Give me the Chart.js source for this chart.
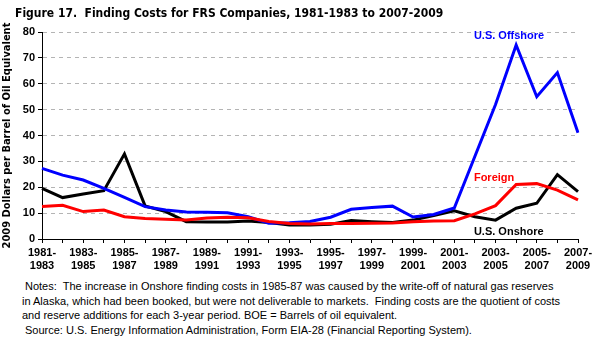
<!DOCTYPE html>
<html>
<head>
<meta charset="utf-8">
<script src="https://cdn.jsdelivr.net/npm/chart.js@4/dist/chart.umd.min.js"></script>
<style>
  body { margin: 0; background: #fff; }
  #wrap { position: relative; width: 599px; height: 349px; background: #fff; overflow: hidden; }
  #title { position: absolute; left: 15px; top: 6px; font: bold 12px "Liberation Sans Narrow", "DejaVu Sans Condensed", sans-serif; color: #000; white-space: nowrap; }
  #chart-box { position: absolute; left: 0; top: 0; width: 599px; height: 280px; }
  .note { position: absolute; font: 11px "Liberation Sans", Arial, sans-serif; color: #000; white-space: nowrap; }
</style>
</head>
<body>
<div id="wrap">
  <div id="chart-box"><canvas id="costs"></canvas></div>
  <div id="title">Figure 17.&nbsp; Finding Costs for FRS Companies, 1981-1983 to 2007-2009</div>
  <div class="note" style="left:25px; top:280px;">Notes:&nbsp; The increase in Onshore finding costs in 1985-87 was caused by the write-off of natural gas reserves</div>
  <div class="note" style="left:22px; top:295px;">in Alaska, which had been booked, but were not deliverable to markets.&nbsp; Finding costs are the quotient of costs</div>
  <div class="note" style="left:22px; top:309px;">and reserve additions for each 3-year period. BOE = Barrels of oil equivalent.</div>
  <div class="note" style="left:25px; top:324px;">Source: U.S. Energy Information Administration, Form EIA-28 (Financial Reporting System).</div>
</div>
<script>
// 3-year periods, 1981-1983 through 2007-2009
var periods = [];
for (var y = 1981; y <= 2007; y++) {
    periods.push(y + '-' + (y + 2));
}

// finding costs, 2009 dollars per BOE
var offshore = [27.3, 24.7, 22.8, 19.6, 16.1, 12.5, 11.2, 10.4, 10.3, 10.1, 8.6, 6.1,
                6.3, 6.8, 8.4, 11.5, 12.2, 12.7, 8.5, 9.5, 12.0, 32.0, 52.0, 75.0,
                55.0, 64.3, 41.1];
var foreign = [12.6, 13.0, 10.6, 11.2, 8.6, 7.9, 7.6, 7.3, 8.1, 8.4, 8.2, 6.8,
               6.0, 5.8, 6.0, 6.0, 6.1, 6.2, 6.7, 7.0, 7.1, 9.7, 12.9, 21.1,
               21.4, 18.9, 15.1];
var onshore = [19.6, 16.0, 17.4, 18.7, 32.9, 12.8, 10.6, 6.7, 6.6, 6.6, 7.0, 6.4,
               5.4, 5.4, 5.7, 7.1, 6.7, 6.4, 7.3, 9.1, 10.9, 8.6, 7.3, 11.9,
               13.8, 24.9, 18.3];

var yTicks = [0, 10, 20, 30, 40, 50, 60, 70, 80];

// series names written next to the lines: [text, color, period index, value]
var seriesLabels = [
    ['U.S. Offshore', '#0000ff', 21, 78.6],
    ['Foreign', '#ff0000', 21, 23.5],
    ['U.S. Onshore', '#000000', 21, 2.7]
];

var boldFont = { family: '"Liberation Sans", Arial, sans-serif', size: 11, weight: 'bold' };

var lineLabels = {
    id: 'lineLabels',
    afterDatasetsDraw(chart) {
        var ctx = chart.ctx;
        var xs = chart.scales.x, ys = chart.scales.y;
        ctx.save();
        ctx.font = 'bold 11px "Liberation Sans", Arial, sans-serif';
        ctx.textBaseline = 'middle';
        ctx.textAlign = 'left';
        seriesLabels.forEach(function (l) {
            ctx.fillStyle = l[1];
            ctx.fillText(l[0], xs.getPixelForValue(l[2]) - 1, ys.getPixelForValue(l[3]));
        });
        ctx.restore();
    }
};

function makeSet(label, data, color) {
    return {
        label: label,
        data: data,
        borderColor: color,
        backgroundColor: color,
        borderWidth: 3,
        pointRadius: 0,
        tension: 0,
        fill: false
    };
}

var ctx = document.getElementById('costs').getContext('2d');
new Chart(ctx, {
    type: 'line',
    data: {
        labels: periods,
        datasets: [
            makeSet('Foreign', foreign, '#ff0000'),
            makeSet('U.S. Offshore', offshore, '#0000ff'),
            makeSet('U.S. Onshore', onshore, '#000000')
        ]
    },
    options: {
        responsive: true,
        maintainAspectRatio: false,
        animation: false,
        layout: { padding: { top: 32, right: 21, left: 0, bottom: 0 } },
        plugins: {
            legend: { display: false },
            tooltip: { enabled: false }
        },
        scales: {
            x: {
                offset: false,
                grid: { drawOnChartArea: false, drawTicks: true, tickLength: 4, tickColor: '#000' },
                border: { color: '#000', width: 1 },
                ticks: {
                    autoSkip: false,
                    maxRotation: 0,
                    padding: 3,
                    color: '#000',
                    font: boldFont,
                    callback: function (v, i) {
                        if (i % 2) return '';
                        var p = periods[i].split('-');
                        return [p[0] + '-', p[1]];
                    }
                },
                afterFit: function (scale) { scale.height = 41; }
            },
            y: {
                min: 0,
                max: 80,
                afterBuildTicks: function (scale) {
                    scale.ticks = yTicks.map(function (v) { return { value: v }; });
                },
                grid: { color: '#b4b4b4', tickColor: '#000', tickLength: 4, lineWidth: 1 },
                border: { color: '#000', width: 1, dash: [4, 4] },
                ticks: { color: '#000', font: boldFont, padding: 3 },
                title: {
                    display: true,
                    text: '2009 Dollars per Barrel of Oil Equivalent',
                    color: '#000',
                    font: { family: '"Liberation Sans Narrow", "DejaVu Sans Condensed", sans-serif', size: 11, weight: 'bold' },
                    padding: { top: 1, bottom: 0 }
                },
                afterFit: function (scale) { scale.width = 42; }
            }
        }
    },
    plugins: [lineLabels]
});
</script>
</body>
</html>
